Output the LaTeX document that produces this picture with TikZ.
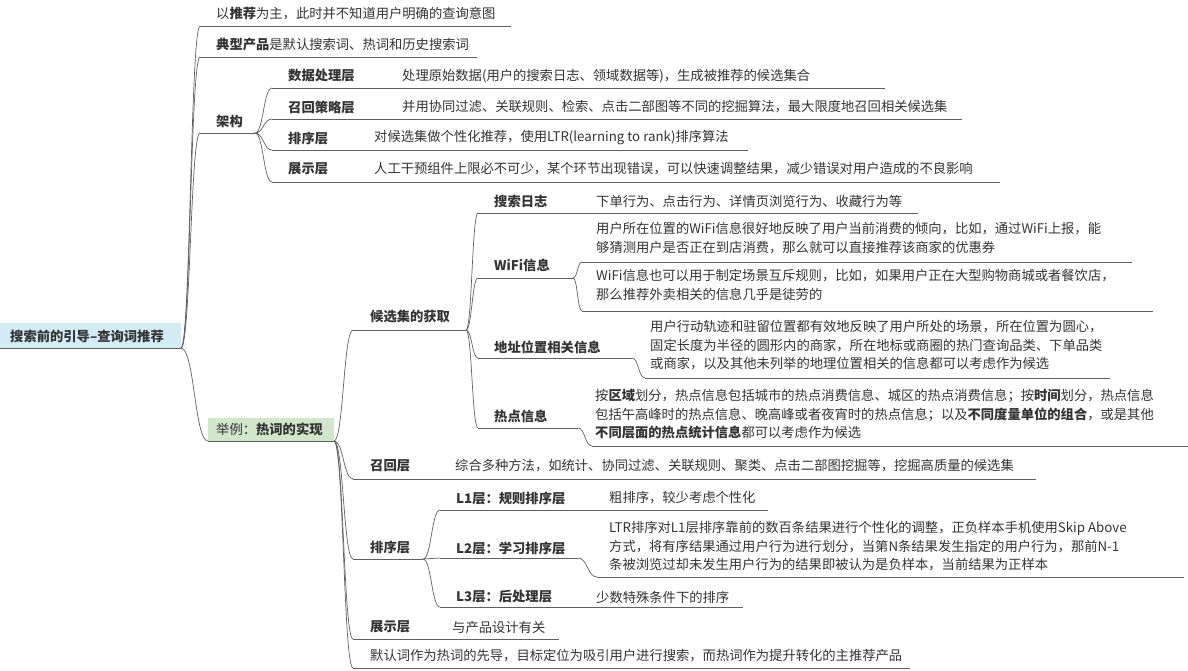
\documentclass[tikz,border=0pt]{standalone}
\usepackage{fontspec}
\setmainfont{Noto Sans CJK SC}
\usetikzlibrary{calc}
\definecolor{rootblue}{HTML}{D3EBF5}
\definecolor{exgreen}{HTML}{D2E6CB}
\definecolor{ink}{HTML}{333333}
\definecolor{wire}{HTML}{606060}
\tikzset{
 txt/.style={anchor=west,inner sep=0pt,text=ink,font=\fontsize{13.3}{18.7}\selectfont},
 lab/.style={txt,font=\fontsize{13.3}{18.7}\selectfont\bfseries},
 para/.style={txt,anchor=north west,align=left},
 link/.style={draw=wire,line width=0.7pt}
}
\newcommand\mmlink[2]{\coordinate (mmtmp) at ($(#1)!0.5!(#2)$);
 \draw[link] (#1) .. controls (mmtmp |- #1) and (mmtmp |- #2) .. (#2);}
\newcommand\mmline[2]{\draw[link] (#1) -- (#2);}
\begin{document}
\begin{tikzpicture}[x=1pt,y=-1pt]
\useasboundingbox (0,0) rectangle (1188,671);
% root
\fill[rootblue] (0,323) rectangle (181,348);
\node[lab] (root) at (10,336) {搜索前的引导--查询词推荐};
\coordinate (rootS) at (0,348); \coordinate (rootP) at (181,348);
\mmline{rootS}{rootP}
% level 1
\node[txt] (a1) at (216,14) {以\textbf{推荐}为主，此时并不知道用户明确的查询意图};
\coordinate (a1S) at (200,26); \coordinate (a1E) at (511,26);
\node[txt] (a2) at (216,45) {\textbf{典型产品}是默认搜索词、热词和历史搜索词};
\coordinate (a2S) at (200,57); \coordinate (a2E) at (477,57);
\node[lab] (a3) at (216,121) {架构};
\coordinate (a3S) at (200,133); \coordinate (a3P) at (255,133);
\mmlink{rootP}{a1S}\mmline{a1S}{a1E}
\mmlink{rootP}{a2S}\mmline{a2S}{a2E}
\mmlink{rootP}{a3S}\mmline{a3S}{a3P}
% architecture children
\node[lab] (b1) at (288,76) {数据处理层};
\node[txt] (b1c) at (402,76) {处理原始数据(用户的搜索日志、领域数据等)，生成被推荐的候选集合};
\coordinate (b1S) at (272,88); \coordinate (b1E) at (885,88);
\node[lab] (b2) at (288,107) {召回策略层};
\node[txt] (b2c) at (402,107) {并用协同过滤、关联规则、检索、点击二部图等不同的挖掘算法，最大限度地召回相关候选集};
\coordinate (b2S) at (272,119); \coordinate (b2E) at (962,119);
\node[lab] (b3) at (288,138) {排序层};
\node[txt] (b3c) at (374,138) {对候选集做个性化推荐，使用LTR(learning to rank)排序算法};
\coordinate (b3S) at (272,150); \coordinate (b3E) at (748,150);
\node[lab] (b4) at (288,169) {展示层};
\node[txt] (b4c) at (374,169) {人工干预组件上限必不可少，某个环节出现错误，可以快速调整结果，减少错误对用户造成的不良影响};
\coordinate (b4S) at (272,182); \coordinate (b4E) at (1000,182);
\foreach \n in {b1,b2,b3,b4}{\mmlink{a3P}{\n S}\mmline{\n S}{\n E}}
% example box
\fill[exgreen] (208,418) rectangle (334,441);
\node[txt] (ex) at (216,429) {举例：\textbf{热词的实现}};
\coordinate (exS) at (208,441); \coordinate (exP) at (334,441);
\mmlink{rootP}{exS}\mmline{exS}{exP}
% candidate set
\node[lab] (c1) at (370,317) {候选集的获取};
\coordinate (c1S) at (353,330); \coordinate (c1P) at (466,330);
\mmlink{exP}{c1S}\mmline{c1S}{c1P}
% search log
\node[lab] (d1) at (494,201) {搜索日志};
\node[txt] (d1c) at (596,201) {下单行为、点击行为、详情页浏览行为、收藏行为等};
\coordinate (d1S) at (478,213); \coordinate (d1E) at (918,213);
\mmlink{c1P}{d1S}\mmline{d1S}{d1E}
% wifi
\node[lab] (d2) at (494,265) {WiFi信息};
\coordinate (d2S) at (478,278); \coordinate (d2P) at (573,278);
\mmlink{c1P}{d2S}\mmline{d2S}{d2P}
\node[para] (e1) at (596,222) {用户所在位置的WiFi信息很好地反映了用户当前消费的倾向，比如，通过WiFi上报，能\\够猜测用户是否正在到店消费，那么就可以直接推荐该商家的优惠券};
\coordinate (e1S) at (582,262); \coordinate (e1E) at (1132,262);
\node[para] (e2) at (596,269) {WiFi信息也可以用于制定场景互斥规则，比如，如果用户正在大型购物商城或者餐饮店，\\那么推荐外卖相关的信息几乎是徒劳的};
\coordinate (e2S) at (582,311); \coordinate (e2E) at (1153,311);
\mmlink{d2P}{e1S}\mmline{e1S}{e1E}
\mmlink{d2P}{e2S}\mmline{e2S}{e2E}
% location
\node[lab] (d3) at (494,347) {地址位置相关信息};
\coordinate (d3S) at (478,358); \coordinate (d3P) at (632,358);
\mmlink{c1P}{d3S}\mmline{d3S}{d3P}
\node[para] (e3) at (650,320) {用户行动轨迹和驻留位置都有效地反映了用户所处的场景，所在位置为圆心，\\固定长度为半径的圆形内的商家，所在地标或商圈的热门查询品类、下单品类\\或商家，以及其他未列举的地理位置相关的信息都可以考虑作为候选};
\coordinate (e3S) at (645,378); \coordinate (e3E) at (1110,378);
\mmlink{d3P}{e3S}\mmline{e3S}{e3E}
% hotspot
\node[lab] (d4) at (494,416) {热点信息};
\coordinate (d4S) at (478,428); \coordinate (d4P) at (578,428);
\mmlink{c1P}{d4S}\mmline{d4S}{d4P}
\node[para] (e4) at (595,389) {按\textbf{区域}划分，热点信息包括城市的热点消费信息、城区的热点消费信息；按\textbf{时间}划分，热点信息\\包括午高峰时的热点信息、晚高峰或者夜宵时的热点信息；以及\textbf{不同度量单位的组合}，或是其他\\\textbf{不同层面的热点统计信息}都可以考虑作为候选};
\coordinate (e4S) at (592,446); \coordinate (e4E) at (1188,446);
\mmlink{d4P}{e4S}\mmline{e4S}{e4E}
% recall layer
\node[lab] (c2) at (370,466) {召回层};
\node[txt] (c2c) at (455,466) {综合多种方法，如统计、协同过滤、关联规则、聚类、点击二部图挖掘等，挖掘高质量的候选集};
\coordinate (c2S) at (353,479); \coordinate (c2E) at (1036,479);
\mmlink{exP}{c2S}\mmline{c2S}{c2E}
% ranking layer
\node[lab] (c3) at (370,547) {排序层};
\coordinate (c3S) at (353,559); \coordinate (c3P) at (423,559);
\mmlink{exP}{c3S}\mmline{c3S}{c3P}
\node[lab] (f1) at (456,498) {L1层：规则排序层};
\node[txt] (f1c) at (609,498) {粗排序，较少考虑个性化};
\coordinate (f1S) at (440,510); \coordinate (f1E) at (768,510);
\node[lab] (f2) at (456,548) {L2层：学习排序层};
\coordinate (f2S) at (440,558); \coordinate (f2P) at (578,558);
\node[para] (f2c) at (609,521) {LTR排序对L1层排序靠前的数百条结果进行个性化的调整，正负样本手机使用Skip Above\\方式，将有序结果通过用户行为进行划分，当第N条结果发生指定的用户行为，那前N-1\\条被浏览过却未发生用户行为的结果即被认为是负样本，当前结果为正样本};
\coordinate (f2cS) at (597,577); \coordinate (f2cE) at (1184,577);
\node[lab] (f3) at (456,597) {L3层：后处理层};
\node[txt] (f3c) at (596,597) {少数特殊条件下的排序};
\coordinate (f3S) at (440,607); \coordinate (f3E) at (743,607);
\mmlink{c3P}{f1S}\mmline{f1S}{f1E}
\mmlink{c3P}{f2S}\mmline{f2S}{f2P}
\mmlink{f2P}{f2cS}\mmline{f2cS}{f2cE}
\mmlink{c3P}{f3S}\mmline{f3S}{f3E}
% display layer
\node[lab] (c4) at (370,627) {展示层};
\node[txt] (c4c) at (452,627) {与产品设计有关};
\coordinate (c4S) at (353,639); \coordinate (c4E) at (559,639);
\mmlink{exP}{c4S}\mmline{c4S}{c4E}
% default words
\node[txt] (c5) at (370,656) {默认词作为热词的先导，目标定位为吸引用户进行搜索，而热词作为提升转化的主推荐产品};
\coordinate (c5S) at (353,668); \coordinate (c5E) at (910,668);
\mmlink{exP}{c5S}\mmline{c5S}{c5E}
\end{tikzpicture}
\end{document}
